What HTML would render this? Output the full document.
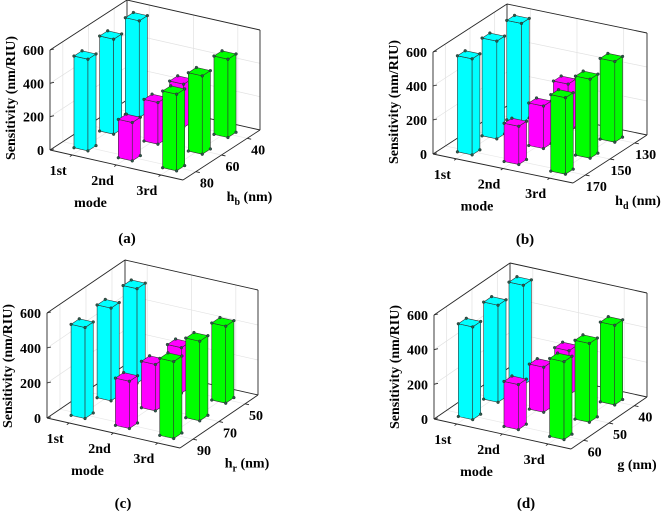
<!DOCTYPE html>
<html><head><meta charset="utf-8"><style>
html,body{margin:0;padding:0;background:#fff}
svg{display:block}
text{font-family:"Liberation Serif",serif;font-weight:bold;fill:#000}
</style></head><body>
<svg id="fig" width="669" height="513" viewBox="0 0 669 513"></svg>
<script>
// data: sensitivity (nm/RIU); index 0 = front (largest parameter), 2 = back
const modes = ['1st','2nd','3rd'];
const zTicks = [0,200,400,600];
const aCyan = [550,570,580], aMagenta = [230,250,260], aGreen = [460,470,470];
const bCyan = [565,575,585], bMagenta = [225,250,285], bGreen = [450,465,475];
const cCyan = [520,530,540], cMagenta = [270,265,260], cGreen = [440,455,440];
const dCyan = [535,560,575], dMagenta = [260,260,255], dGreen = [450,455,460];
const aParam = ['80','60','40'], bParam = ['170','150','130'], cParam = ['90','70','50'], dParam = ['60','50','40'];

const svg = document.getElementById('fig');
const NS = 'http://www.w3.org/2000/svg';
function mk(tag, attrs, parent){const e=document.createElementNS(NS,tag);for(const k in attrs)e.setAttribute(k,attrs[k]);(parent||svg).appendChild(e);return e;}

const panels = [
 {id:'a',o:[50,150],mv:[133,30],hv:[77,-50],zs:100/600,vals:[aCyan,aMagenta,aGreen],ticks:aParam,t:'h',sub:'b',lab:[127,243]},
 {id:'b',o:[433,154],mv:[140,29],hv:[74,-48],zs:102/600,vals:[bCyan,bMagenta,bGreen],ticks:bParam,t:'h',sub:'d',lab:[525,244]},
 {id:'c',o:[47,418],mv:[133,30],hv:[78,-53],zs:105/600,vals:[cCyan,cMagenta,cGreen],ticks:cParam,t:'h',sub:'r',lab:[123,508]},
 {id:'d',o:[434,419],mv:[137,30],hv:[76,-52],zs:104/600,vals:[dCyan,dMagenta,dGreen],ticks:dParam,t:'g',sub:'',lab:[526,508]}
];
const colors = ['#00ffff','#ff00ff','#00ff00'];
const zMax = 600, bw = 0.105;

panels.forEach(p=>{
  const g = mk('g',{});
  
  
  const P=(m,h,z)=>[p.o[0]+p.mv[0]*m+p.hv[0]*h, p.o[1]+p.mv[1]*m+p.hv[1]*h - z*p.zs];
  const line=(a,b,st,w,name)=>{const l=mk('line',{x1:a[0],y1:a[1],x2:b[0],y2:b[1],stroke:st,'stroke-width':w},g);return l;};
  zTicks.forEach(z=>{ if(z===0) return;
    line(P(0,0,z),P(0,1,z),'#e2e2e2',0.7,'grid-line');
    line(P(0,1,z),P(1,1,z),'#e2e2e2',0.7,'grid-line');
  });
  [1/6,0.5,5/6].forEach(t=>{
    line(P(t,1,0),P(t,1,zMax),'#e2e2e2',0.7,'grid-line');
    line(P(0,t,0),P(0,t,zMax),'#e2e2e2',0.7,'grid-line');
    line(P(t,0,0),P(t,1,0),'#e8e8e8',0.7,'grid-line');
    line(P(0,t,0),P(1,t,0),'#e8e8e8',0.7,'grid-line');
  });
  const bc='#262626';
  line(P(0,0,0),P(0,0,zMax),bc,0.9,'z-axis');
  line(P(0,1,0),P(0,1,zMax),bc,0.9,'box-edge');
  line(P(1,1,0),P(1,1,zMax),bc,0.9,'box-edge');
  line(P(0,0,zMax),P(0,1,zMax),bc,0.9,'box-edge');
  line(P(0,1,zMax),P(1,1,zMax),bc,0.9,'box-edge');
  line(P(0,0,0),P(0,1,0),bc,0.9,'box-edge');
  line(P(0,1,0),P(1,1,0),bc,0.9,'box-edge');
  line(P(0,0,0),P(1,0,0),bc,0.9,'mode-axis');
  line(P(1,0,0),P(1,1,0),bc,0.9,'param-axis');
  zTicks.forEach(z=>{
    const q=P(0,0,z);
    line(q,[q[0]+4,q[1]-1],bc,0.9,'z-tick');
    const t=mk('text',{x:q[0]-6,y:q[1]+5,'text-anchor':'end','font-size':14},g);
    
    
    t.textContent=z;
  });
  modes.forEach((m,i)=>{
    const t0=(i+0.5)/3, q=P(t0,0,0);
    line(q,[q[0]-p.hv[0]*0.03,q[1]-p.hv[1]*0.03],bc,0.9,'mode-tick');
    const t=mk('text',{x:q[0]-14,y:q[1]+20,'text-anchor':'middle','font-size':14},g);
    
    
    t.textContent=m;
  });
  p.ticks.forEach((s,i)=>{
    const t0=(i+0.5)/3, q=P(1,t0,0);
    line(q,[q[0]+p.mv[0]*0.03,q[1]+p.mv[1]*0.03],bc,0.9,'param-tick');
    const t=mk('text',{x:q[0]+11,y:q[1]+16,'text-anchor':'middle','font-size':14},g);
    
    
    t.textContent=s;
  });
  const mq=P(0.5,0,0);
  const mt=mk('text',{x:mq[0]-26,y:mq[1]+42,'text-anchor':'middle','font-size':14},g);
  
  
  mt.textContent='mode';
  const hq=P(1,0.5,0);
  const ht=mk('text',{x:hq[0]+28,y:hq[1]+46,'text-anchor':'middle','font-size':14},g);
  
  
  ht.appendChild(document.createTextNode(p.t));
  if(p.sub){const ts=mk('tspan',{'font-size':10,dy:4},ht);ts.textContent=p.sub;const ts2=mk('tspan',{dy:-4},ht);ts2.textContent=' (nm)';}
  else ht.appendChild(document.createTextNode(' (nm)'));
  const yx=p.o[0]-35, yy=p.o[1]-52;
  const yt=mk('text',{x:yx,y:yy,'text-anchor':'middle','font-size':14,transform:`rotate(-90 ${yx} ${yy})`},g);
  
  
  yt.textContent='Sensitivity (nm/RIU)';
  const pl=mk('text',{x:p.lab[0],y:p.lab[1],'text-anchor':'middle','font-size':15},g);
  
  
  pl.textContent='('+p.id+')';
  const order=[];
  for(let h=2;h>=0;h--) for(let m=0;m<3;m++) order.push([m,h]);
  order.forEach(([m,h])=>{
    const v=p.vals[m][h], c=colors[m];
    const mc=(m+0.5)/3, hc=(h+0.5)/3;
    const m0=mc-bw/2,m1=mc+bw/2,h0=hc-bw/2,h1=hc+bw/2;
    const bg=mk('g',{},g);
    
    
    const poly=(pts)=>mk('polygon',{points:pts.map(q=>q.join(',')).join(' '),fill:c,stroke:'#333','stroke-width':0.6},bg);
    poly([P(m0,h0,0),P(m1,h0,0),P(m1,h0,v),P(m0,h0,v)]);
    poly([P(m1,h0,0),P(m1,h1,0),P(m1,h1,v),P(m1,h0,v)]);
    poly([P(m0,h0,v),P(m1,h0,v),P(m1,h1,v),P(m0,h1,v)]);
    [P(m0,h0,0),P(m1,h0,0),P(m1,h1,0),P(m0,h0,v),P(m1,h0,v),P(m1,h1,v),P(m0,h1,v)].forEach(q=>{
      mk('circle',{cx:q[0],cy:q[1],r:1.4,fill:'#2a5a4a',stroke:'#222','stroke-width':0.4},bg);
    });
  });
});
</script>
</body></html>
